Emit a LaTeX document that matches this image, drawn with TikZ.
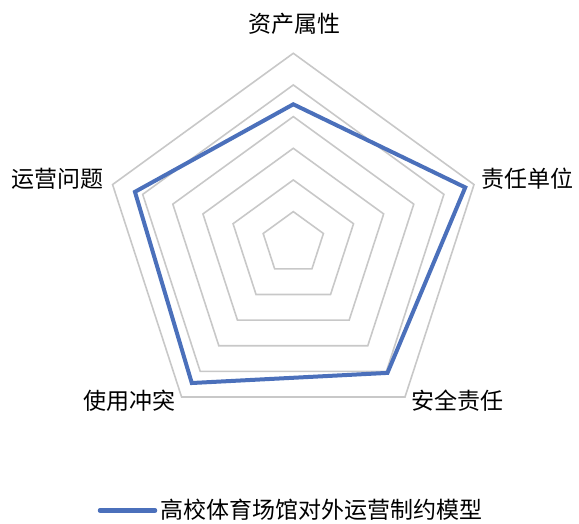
\documentclass[tikz,border=0pt]{standalone}
\usepackage{fontspec}
\newfontfamily\cjk{Noto Sans CJK SC}
\usetikzlibrary{calc}
\definecolor{gridgray}{RGB}{200,200,200}
\definecolor{seriesblue}{RGB}{75,112,187}

\begin{document}
\begin{tikzpicture}[x=1pt, y=1pt, font=\cjk\fontsize{23}{27}\selectfont]
    \useasboundingbox (0,0) rectangle (579,523);
    \coordinate (c) at (293.3,279.7);
    \foreach \k [evaluate=\k as \r using 31.67*\k] in {1,...,6}
             {
               \draw[gridgray, line width=1.6pt, shift={(c)}] (90:\r) -- (18:\r) -- (-54:\r) -- (-126:\r) -- (162:\r) -- cycle;
             }
    \coordinate (p1) at ($(c)+(90:139)$);
    \coordinate (p2) at ($(c)+(18:180.8)$);
    \coordinate (p3) at ($(c)+(-54:160.2)$);
    \coordinate (p4) at ($(c)+(-126:172.7)$);
    \coordinate (p5) at ($(c)+(162:166.5)$);
    \draw[seriesblue, line width=4pt] (p1) -- (p2) -- (p3) -- (p4) -- (p5) -- cycle;
    \node[inner sep=0pt] (zc) at (294,499) {资产属性};
    \node[inner sep=0pt] (zr) at (527.3,344) {责任单位};
    \node[inner sep=0pt] (aq) at (457.5,122) {安全责任};
    \node[inner sep=0pt] (sy) at (129.7,122) {使用冲突};
    \node[inner sep=0pt] (yy) at (57.5,343.7) {运营问题};

    \coordinate (l1) at (100,12.5);
    \coordinate (l2) at (155,12.5);
    \draw[seriesblue, line width=4.5pt, line cap=round] (l1) -- (l2);
    \node[anchor=west, inner sep=0pt] (lg) at (160,13) {高校体育场馆对外运营制约模型};

  \end{tikzpicture}
\end{document}
